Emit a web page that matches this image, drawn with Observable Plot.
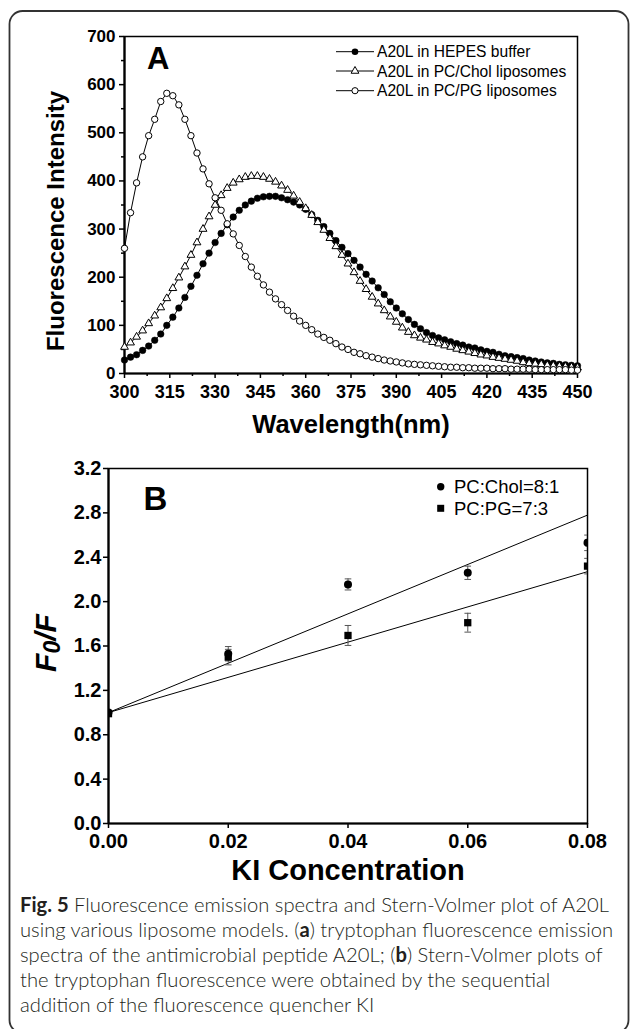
<!DOCTYPE html>
<html>
<head>
<meta charset="utf-8">
<script src="https://cdn.jsdelivr.net/npm/d3@7"></script>
<script src="https://cdn.jsdelivr.net/npm/@observablehq/plot@0.6"></script>
<style>
  html, body { margin: 0; padding: 0; background: #fff; }
  #wrap { position: relative; width: 630px; height: 1029px; overflow: hidden; background: #fff; }
  #pa, #pb { position: absolute; left: 0; }
  #pa { top: 0; }
  #pb { top: 440px; }
  #cap { position: absolute; left: 20px; top: 892px; font-family: Lato, "Open Sans", sans-serif; font-weight: 300; font-size: 20.2px; line-height: 25px; color: #231f20; white-space: nowrap; }
  #cap b { font-weight: 700; }
  #frameBox { position: absolute; left: 0; top: 0; }
</style>
</head>
<body>
<div id="wrap">
  <div id="pa"></div>
  <div id="pb"></div>
  <div id="cap"></div>
  <svg id="frameBox" width="630" height="1029"><rect x="9.5" y="11" width="619" height="1022" rx="13" ry="13" fill="none" stroke="#333" stroke-width="1.8"/></svg>
</div>
<script>
// ---------- Panel A data ----------
const wavelength = [300,302,304,306,308,310,312,314,316,318,320,322,324,326,328,330,332,334,336,338,
  340,342,344,346,348,350,352,354,356,358,360,362,364,366,368,370,372,374,376,378,
  380,382,384,386,388,390,392,394,396,398,400,402,404,406,408,410,412,414,416,418,
  420,422,424,426,428,430,432,434,436,438,440,442,444,446,448,450];
const hepes = [28,34,39,48,57,69,82,100,117,136,158,181,204,228,250,272,291,309,325,339,
  350,358,364,367,368,368,365,361,356,350,341,330,318,305,291,276,262,249,235,221,
  206,192,178,164,149,136,124,112,102,93,85,79,74,70,66,62,59,55,53,49,
  46,44,40,37,35,33,31,28,26,24,22,21,19,18,17,16];
const pcChol = [55,64,76,89,104,120,137,156,177,199,222,246,272,300,326,350,370,385,396,403,
  408,410,410,408,404,398,390,381,369,356,343,329,314,298,281,264,246,228,210,192,
  175,159,145,131,118,107,95,86,79,74,70,65,62,58,55,51,48,45,42,39,
  37,34,32,30,28,26,23,21,20,19,17,16,15,14,13,12];
const pcPG = [260,334,396,450,494,528,565,582,577,558,528,494,458,425,394,365,339,311,290,266,
  243,221,202,184,169,155,143,131,119,109,100,91,82,75,69,62,55,50,44,41,
  37,34,31,28,26,24,22,20,19,18,17,16,15,14,13,13,12,12,11,11,
  11,10,10,10,9,9,9,9,8,8,8,8,8,8,7,7];
const seriesNamesA = ["A20L in HEPES buffer", "A20L in PC/Chol liposomes", "A20L in PC/PG liposomes"];
const xTicksA = [300,315,330,345,360,375,390,405,420,435,450];
const xMinorA = [307.5,322.5,337.5,352.5,367.5,382.5,397.5,412.5,427.5,442.5];
const yTicksA = [0,100,200,300,400,500,600,700];
const yMinorA = [50,150,250,350,450,550,650];

// ---------- Panel B data ----------
const kiConc = [0, 0.02, 0.04, 0.06, 0.08];
const cholF0F = [1.00, 1.53, 2.155, 2.26, 2.53];
const cholErr = [0.02, 0.065, 0.05, 0.06, 0.07];
const pgF0F = [0.99, 1.50, 1.695, 1.81, 2.32];
const pgErr = [0.02, 0.07, 0.09, 0.085, 0.07];
const fitX = [0, 0.08];
const cholFit = [1.0, 2.78];
const pgFit = [1.0, 2.27];
const seriesNamesB = ["PC:Chol=8:1", "PC:PG=7:3"];
const xTicksB = [0, 0.02, 0.04, 0.06, 0.08];
const yTicksB = [0, 0.4, 0.8, 1.2, 1.6, 2.0, 2.4, 2.8, 3.2];

const captionLines = [
  "<b>Fig. 5</b> Fluorescence emission spectra and Stern-Volmer plot of A20L",
  "using various liposome models. (<b>a</b>) tryptophan fluorescence emission",
  "spectra of the antimicrobial peptide A20L; (<b>b</b>) Stern-Volmer plots of",
  "the tryptophan fluorescence were obtained by the sequential",
  "addition of the fluorescence quencher KI"
];

const FONT = "'Liberation Sans', Arial, Helvetica, sans-serif";

// ---------- Panel A ----------
const rowsA = wavelength.map((w, i) => ({w, hepes: hepes[i], chol: pcChol[i], pg: pcPG[i]}));
const plotA = Plot.plot({
  width: 630, height: 440,
  marginTop: 36, marginRight: 53, marginBottom: 67, marginLeft: 124,
  style: {fontFamily: FONT, background: "none", color: "black", overflow: "visible"},
  x: {domain: [300, 450]},
  y: {domain: [0, 700]},
  marks: [
    Plot.axisY({ticks: yTicksA, tickSize: 5, tickPadding: 4, strokeWidth: 1.5, fontSize: 17, fontWeight: "bold", label: null, tickFormat: d => String(d)}),
    Plot.axisY({ticks: yMinorA, tickSize: 3, strokeWidth: 1.5, label: null, tickFormat: () => ""}),
    Plot.axisX({ticks: xTicksA, tickSize: 5, tickPadding: 7, strokeWidth: 1.5, fontSize: 18, fontWeight: "bold", label: null, tickFormat: d => String(d)}),
    Plot.axisX({ticks: xMinorA, tickSize: 3, strokeWidth: 1.5, label: null, tickFormat: () => ""}),
    Plot.frame({stroke: "black", strokeWidth: 1.5}),
    Plot.ruleX([300], {strokeWidth: 2.2}),
    Plot.ruleY([0], {strokeWidth: 2.2}),
    Plot.line(rowsA, {x: "w", y: "hepes", stroke: "black", strokeWidth: 1}),
    Plot.dot(rowsA, {x: "w", y: "hepes", r: 3.3, fill: "black", stroke: "black", strokeWidth: 0.5}),
    Plot.line(rowsA, {x: "w", y: "chol", stroke: "black", strokeWidth: 1}),
    Plot.dot(rowsA, {x: "w", y: "chol", symbol: "triangle", r: 2.9, fill: "white", stroke: "black", strokeWidth: 1}),
    Plot.line(rowsA, {x: "w", y: "pg", stroke: "black", strokeWidth: 1}),
    Plot.dot(rowsA, {x: "w", y: "pg", r: 3.2, fill: "white", stroke: "black", strokeWidth: 1}),
    Plot.text(["Fluorescence Intensity"], {frameAnchor: "left", dx: -68, dy: 16, rotate: -90, textAnchor: "middle", lineAnchor: "middle", fontSize: 24, fontWeight: "bold"}),
    Plot.text(["Wavelength(nm)"], {frameAnchor: "bottom", dy: 51, textAnchor: "middle", lineAnchor: "middle", fontSize: 25.5, fontWeight: "bold"}),
    Plot.text(["A"], {frameAnchor: "top-left", dx: 22.5, dy: 10.5, textAnchor: "start", lineAnchor: "top", fontSize: 31, fontWeight: "bold"})
  ]
});
document.getElementById("pa").appendChild(plotA);

// legend A
{
  const svg = d3.select(plotA);
  const g = svg.append("g").attr("font-family", FONT).attr("font-size", 15.6).attr("text-anchor", "start");
  const rowsY = [51.7, 71, 90.7];
  const kinds = ["filled", "triangle", "open"];
  seriesNamesA.forEach((name, i) => {
    const y = rowsY[i];
    g.append("line").attr("x1", 336).attr("x2", 374).attr("y1", y).attr("y2", y).attr("stroke", "black").attr("stroke-width", 1);
    if (kinds[i] === "filled") g.append("circle").attr("cx", 355).attr("cy", y).attr("r", 3.3).attr("fill", "black");
    else if (kinds[i] === "open") g.append("circle").attr("cx", 355).attr("cy", y).attr("r", 3.1).attr("fill", "white").attr("stroke", "black");
    else g.append("path").attr("transform", `translate(355,${y})`).attr("d", d3.symbol(d3.symbolTriangle, Math.PI * 2.9 * 2.9)()).attr("fill", "white").attr("stroke", "black");
    g.append("text").attr("x", 377).attr("y", y).attr("dy", "0.36em").attr("text-anchor", "start").text(name);
  });
}

// ---------- Panel B ----------
const rowsB = kiConc.map((c, i) => ({c, chol: cholF0F[i], cholErr: cholErr[i], pg: pgF0F[i], pgErr: pgErr[i]}));
const fitRows = fitX.map((x, i) => ({x, chol: cholFit[i], pg: pgFit[i]}));
const capSymbol = {draw(ctx, size) { const w = Math.sqrt(size / Math.PI); ctx.moveTo(-w, 0); ctx.lineTo(w, 0); }};
const ERR = "#555";
const plotB = Plot.plot({
  width: 630, height: 450,
  marginTop: 28, marginRight: 43, marginBottom: 67, marginLeft: 108,
  style: {fontFamily: FONT, background: "none", color: "black", overflow: "visible"},
  x: {domain: [0, 0.08]},
  y: {domain: [0, 3.2]},
  marks: [
    Plot.axisY({ticks: yTicksB, tickSize: 5, tickPadding: 2, strokeWidth: 1.5, fontSize: 20, fontWeight: "bold", label: null, tickFormat: d => d.toFixed(1)}),
    Plot.axisX({ticks: xTicksB, tickSize: 5, tickPadding: 5, strokeWidth: 1.5, fontSize: 20, fontWeight: "bold", label: null, tickFormat: d => d.toFixed(2)}),
    Plot.frame({stroke: "black", strokeWidth: 1.5}),
    Plot.ruleX([0], {strokeWidth: 2.2}),
    Plot.ruleY([0], {strokeWidth: 2.2}),
    Plot.line(fitRows, {x: "x", y: "chol", stroke: "black", strokeWidth: 1, clip: true}),
    Plot.line(fitRows, {x: "x", y: "pg", stroke: "black", strokeWidth: 1, clip: true}),
    Plot.ruleX(rowsB, {x: "c", y1: d => d.chol - d.cholErr, y2: d => d.chol + d.cholErr, stroke: ERR, strokeWidth: 1, clip: true}),
    Plot.dot(rowsB, {x: "c", y: d => d.chol - d.cholErr, symbol: capSymbol, r: 3.3, fill: "none", stroke: ERR, strokeWidth: 1, clip: true}),
    Plot.dot(rowsB, {x: "c", y: d => d.chol + d.cholErr, symbol: capSymbol, r: 3.3, fill: "none", stroke: ERR, strokeWidth: 1, clip: true}),
    Plot.ruleX(rowsB, {x: "c", y1: d => d.pg - d.pgErr, y2: d => d.pg + d.pgErr, stroke: ERR, strokeWidth: 1, clip: true}),
    Plot.dot(rowsB, {x: "c", y: d => d.pg - d.pgErr, symbol: capSymbol, r: 3.3, fill: "none", stroke: ERR, strokeWidth: 1, clip: true}),
    Plot.dot(rowsB, {x: "c", y: d => d.pg + d.pgErr, symbol: capSymbol, r: 3.3, fill: "none", stroke: ERR, strokeWidth: 1, clip: true}),
    Plot.dot(rowsB, {x: "c", y: "pg", symbol: "square", r: 4.1, fill: "black", clip: true}),
    Plot.dot(rowsB, {x: "c", y: "chol", r: 4, fill: "black", clip: true}),
    Plot.text(["KI Concentration"], {frameAnchor: "bottom", dy: 47, textAnchor: "middle", lineAnchor: "middle", fontSize: 29, fontWeight: "bold"}),
    Plot.text(["B"], {frameAnchor: "top-left", dx: 35, dy: 18.5, textAnchor: "start", lineAnchor: "top", fontSize: 33, fontWeight: "bold"})
  ]
});
document.getElementById("pb").appendChild(plotB);

{
  const svg = d3.select(plotB);
  // y label F0/F
  const t = svg.append("text")
    .attr("transform", "translate(45,203) rotate(-90)")
    .attr("text-anchor", "middle").attr("dy", "0.36em")
    .attr("font-family", FONT).attr("font-size", 30).attr("font-weight", "bold").attr("font-style", "italic");
  t.append("tspan").text("F");
  t.append("tspan").attr("font-size", 23).attr("dy", 4).text("0");
  t.append("tspan").attr("dy", -4).text("/F");
  // legend B
  const g = svg.append("g").attr("font-family", FONT).attr("font-size", 18.5).attr("text-anchor", "start");
  g.append("circle").attr("cx", 440.7).attr("cy", 46.7).attr("r", 3.7).attr("fill", "black");
  g.append("text").attr("x", 454).attr("y", 46.7).attr("dy", "0.36em").attr("text-anchor", "start").text(seriesNamesB[0]);
  g.append("rect").attr("x", 437.2).attr("y", 64.8).attr("width", 7).attr("height", 7).attr("fill", "black");
  g.append("text").attr("x", 454).attr("y", 68.3).attr("dy", "0.36em").attr("text-anchor", "start").text(seriesNamesB[1]);
}

document.getElementById("cap").innerHTML = captionLines.join("<br>");
</script>
</body>
</html>
